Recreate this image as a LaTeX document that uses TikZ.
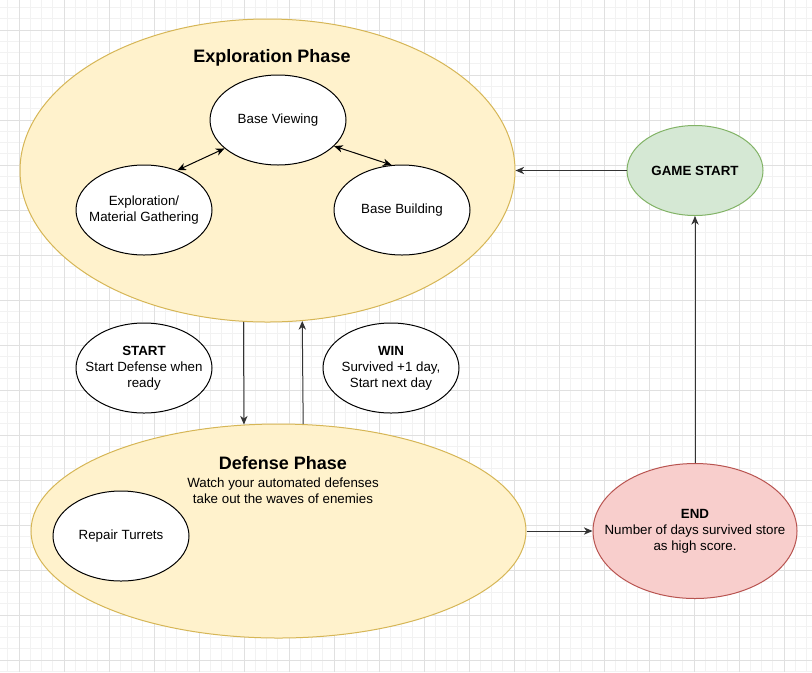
\documentclass[tikz,border=0pt]{standalone}
\usepackage{fontspec}
\setmainfont{Liberation Sans}
\usetikzlibrary{shapes.geometric,arrows.meta}
\definecolor{phasefill}{HTML}{FFF2CC}
\definecolor{phaseline}{HTML}{D6B656}
\definecolor{startfill}{HTML}{D5E8D4}
\definecolor{startline}{HTML}{82B366}
\definecolor{endfill}{HTML}{F8CECC}
\definecolor{endline}{HTML}{B85450}
\definecolor{gridminor}{HTML}{F2F2F2}
\definecolor{gridmajor}{HTML}{E0E0E0}
\definecolor{arrowgray}{HTML}{333333}
\begin{document}
\begin{tikzpicture}[x=0.75pt, y=-0.75pt,
		txt/.style={font=\fontsize{10}{12}\selectfont, align=center, text=black},
		oval/.style={ellipse, draw=black, fill=white, line width=0.75pt, inner sep=0pt,
			minimum width=102pt, minimum height=67.5pt, label={[txt]center:{#1}}},
		phase/.style={ellipse, draw=phaseline, fill=phasefill, line width=0.75pt, inner sep=0pt},
		title/.style={font=\fontsize{13.5}{15}\selectfont\bfseries, text=black},
		arr/.style={-{Stealth[length=6.5pt,width=5.5pt,inset=2pt]}, line width=0.75pt, arrowgray},
		darr/.style={{Stealth[length=6.5pt,width=5.5pt,inset=2pt]}-{Stealth[length=6.5pt,width=5.5pt,inset=2pt]}, line width=0.75pt, black}]
		
		\useasboundingbox (0,0) rectangle (812,672);
		\fill[white] (0,0) rectangle (812,672);
		\begin{scope}[shift={(19,30)}]
			\draw[gridminor, line width=0.75pt, step=8.4375pt] (-19,-30) grid (793,642);
			\draw[gridmajor, line width=0.75pt, step=33.75pt] (-19,-30) grid (793,642);
		\end{scope}
		
		\node[phase, minimum width=371.25pt, minimum height=227.25pt] (EP) at (267.5,170.5) {};
		\node[title] (EPt) at (272,58) {Exploration Phase};
		\node[oval={Base Viewing}] (BV) at (278,120) {};
		\node[oval={Exploration/\\Material Gathering}] (EG) at (144,210) {};
		\node[oval={Base Building}] (BB) at (402,210) {};
		
		\draw[darr] (EG.50) -- (BV.208);
		\draw[darr] (BV.335) -- (BB.103);
		
		\node[oval={\textbf{GAME START}}, fill=startfill, draw=startline] (GS) at (695,170.5) {};
		\draw[arr] (GS.west) -- (EP.east);
		
		\node[oval={\textbf{START}\\Start Defense when\\ready}] (S) at (144,368) {};
		\node[oval={\textbf{WIN}\\Survived +1 day,\\Start next day}] (W) at (391,368) {};
		
		\node[phase, minimum width=371.25pt, minimum height=160.5pt] (DP) at (278.5,531) {};
		\node[title] (DPt) at (283,463) {Defense Phase};
		\node[txt] (DPs) at (283,491) {Watch your automated defenses\\take out the waves of enemies};
		\node[oval={Repair Turrets}] (RT) at (121,536) {};
		
		\draw[arr] (EP.261) -- (DP.108);
		\draw[arr] (DP.77) -- (EP.283);
		
		\node[oval={\textbf{END}\\Number of days survived store\\as high score.}, fill=endfill, draw=endline,
			minimum width=153pt, minimum height=101.25pt] (E) at (695,531) {};
		\draw[arr] (DP.east) -- (E.west);
		\draw[arr] (E.north) -- (GS.south);
	\end{tikzpicture}
\end{document}
